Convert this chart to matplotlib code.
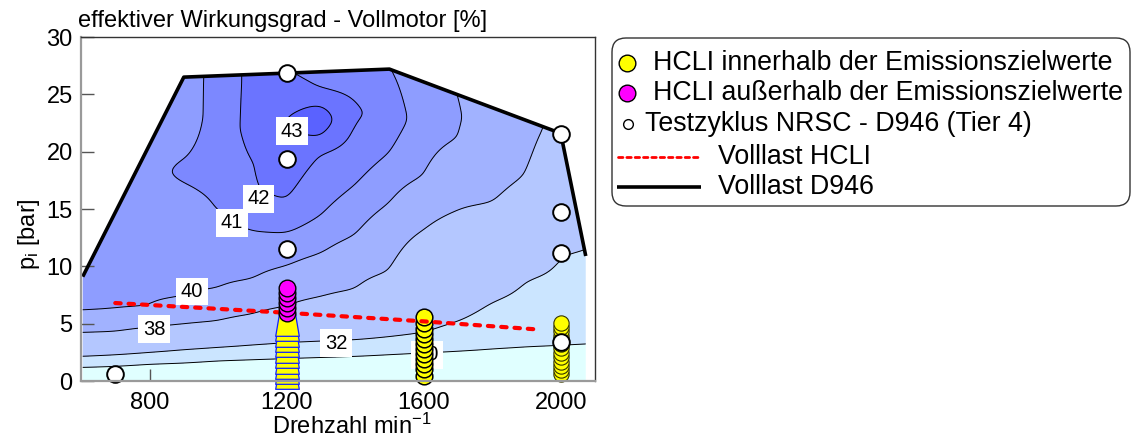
import numpy as np
import matplotlib
matplotlib.use("Agg")
import matplotlib.pyplot as plt
from matplotlib.patches import Polygon, FancyBboxPatch
from matplotlib.path import Path

plt.rcParams['font.family'] = ['Liberation Sans', 'DejaVu Sans']
plt.rcParams['mathtext.fontset'] = 'custom'
plt.rcParams['mathtext.rm'] = 'Liberation Sans'

# ---- efficiency map: (p_i [bar], eta [%]) pairs along each speed column ----
map_speeds = [600, 700, 800, 900, 1000, 1100, 1200, 1300,
              1400, 1500, 1600, 1700, 1800, 1900, 2000, 2100]
eta_600 = [(0, 28.0), (1.2, 30), (2.2, 32), (4.1, 38), (6.0, 40), (9.0, 40.6), (28, 40.8)]
eta_700 = [(0, 28.0), (1.3, 30), (2.35, 32), (4.2, 38), (6.1, 40), (12, 40.5), (18, 40.7), (28, 40.7)]
eta_800 = [(0, 28.0), (1.5, 30), (2.55, 32), (4.6, 38), (6.3, 40), (16, 40.8), (20.6, 40.9), (28, 40.9)]
eta_900 = [(0, 28.0), (1.6, 30), (2.8, 32), (4.85, 38), (7.2, 40), (17.3, 41), (18.2, 41.1),
           (19.3, 41), (23, 40.6), (27, 40.5), (28, 40.5)]
eta_1000 = [(0, 28.0), (1.8, 30), (3.0, 32), (5.1, 38), (7.95, 40), (15.1, 41), (20, 41.3),
            (22, 41.3), (26, 41.35), (28, 41.35)]
eta_1100 = [(0, 28.0), (1.9, 30), (3.2, 32), (5.7, 38), (8.8, 40), (13.1, 41), (16.5, 41.95),
            (19.0, 42), (22, 42.4), (26, 42.3), (28, 42.3)]
eta_1200 = [(0, 28.0), (2.0, 30), (3.4, 32), (6.4, 38), (10.0, 40), (12.9, 41), (15.6, 42),
            (22.7, 43.05), (25.5, 42.5), (27, 42.05), (28, 42.0)]
eta_1300 = [(0, 28.0), (2.1, 30), (3.5, 32), (7.25, 38), (11.1, 40), (14.5, 41), (19.8, 42),
            (21.2, 43), (22.7, 43.55), (24.2, 43), (25.5, 42), (27, 41.6), (28, 41.6)]
eta_1400 = [(0, 28.0), (2.2, 30), (3.6, 32), (7.9, 38), (12.7, 40), (17.1, 41), (22.6, 42),
            (23.4, 42.2), (24.3, 42), (25.5, 41.7), (27.5, 41.4), (28, 41.4)]
eta_1500 = [(0, 28.0), (2.35, 30), (3.85, 32), (9.5, 38), (15.5, 40), (19.9, 41), (23, 41.45),
            (27, 41.05), (28, 41.0)]
eta_1600 = [(0, 28.0), (2.5, 30), (4.2, 32), (13.2, 38), (17.9, 40), (22.5, 40.6), (26.5, 40.5),
            (28, 40.4)]
eta_1700 = [(0, 28.0), (2.6, 30), (5.2, 32), (14.9, 38), (21.2, 40), (23, 40.1), (24.8, 40),
            (28, 39.8)]
eta_1800 = [(0, 28.0), (2.75, 30), (6.9, 32), (15.5, 38), (20, 39.2), (24, 39.4), (28, 39.4)]
eta_1900 = [(0, 28.0), (2.9, 30), (8.8, 32), (14, 36.5), (18.0, 38), (23, 38.9), (28, 39.0)]
eta_2000 = [(0, 28.0), (3.0, 30), (11.0, 32), (17, 35.5), (22, 37.2), (28, 37.5)]
eta_2100 = [(0, 28.0), (3.15, 30), (12.0, 32), (18, 35), (22, 36.5), (28, 37)]
map_columns = [eta_600, eta_700, eta_800, eta_900, eta_1000, eta_1100, eta_1200, eta_1300,
               eta_1400, eta_1500, eta_1600, eta_1700, eta_1800, eta_1900, eta_2000, eta_2100]

fill_levels = [20, 30, 32, 38, 40, 41, 42, 43, 50]
line_levels = [30, 32, 38, 40, 41, 42, 43]
fill_colors = ['#e0ffff', '#cbe5ff', '#b4c7ff', '#a1b2ff', '#8e9dff', '#7c88ff', '#6b74ff', '#5a62ff']

# contour label values and where they sit
label_levels = [43, 42, 41, 40, 38, 32, 30]
label_rpm = [1216, 1119, 1041, 924, 813, 1344, 1610]
label_p = [21.8, 15.9, 13.8, 7.8, 4.5, 3.3, 2.3]

# ---- full-load curves ----
d946_fl_rpm = [605, 900, 1500, 2000, 2073]
d946_fl_p = [9.1, 26.5, 27.2, 21.6, 10.9]
hcli_fl_rpm = [700, 1200, 1600, 1930]
hcli_fl_p = [6.8, 5.95, 5.2, 4.5]

# ---- operating points ----
hcli_in_1200_p = [0.35, 0.8, 1.25, 1.7, 2.2, 2.65, 3.1, 3.6, 4.05, 4.5, 5.0]
hcli_in_1600_p = [0.45, 1.05, 1.5, 1.9, 2.35, 2.8, 3.25, 3.65, 4.1, 4.55, 5.05, 5.6]
hcli_in_2000_p = [0.6, 1.0, 1.35, 1.7, 2.1, 2.45, 2.85, 3.2, 3.6, 3.95, 4.35, 4.7, 5.1]
hcli_out_1200_p = [5.9, 6.35, 6.8, 7.2, 7.65, 8.1]
nrsc_rpm = [700, 1200, 1200, 1200, 2000, 2000, 2000, 2000]
nrsc_p = [0.6, 26.85, 19.4, 11.5, 21.5, 14.7, 11.2, 3.4]

legend_labels = ['HCLI innerhalb der Emissionszielwerte',
                 'HCLI außerhalb der Emissionszielwerte',
                 'Testzyklus NRSC - D946 (Tier 4)',
                 'Volllast HCLI',
                 'Volllast D946']


def smooth(z, sig_rows, sig_cols):
    out = z
    for axis, sig in ((0, sig_rows), (1, sig_cols)):
        r = int(3 * sig)
        k = np.exp(-0.5 * (np.arange(-r, r + 1) / sig) ** 2)
        k /= k.sum()
        pad = [(0, 0), (0, 0)]
        pad[axis] = (r, r)
        zp = np.pad(out, pad, mode='edge')
        out = np.apply_along_axis(lambda v: np.convolve(v, k, mode='valid'), axis, zp)
    return out


# build the map on a fine grid
p_fine = np.linspace(0, 28, 281)
n_fine = np.arange(600, 2101, 5)
cols = np.array([np.interp(p_fine, [a for a, _ in c], [b for _, b in c]) for c in map_columns])
Z = np.array([np.interp(n_fine, map_speeds, cols[:, i]) for i in range(len(p_fine))])
Z = smooth(Z, 3, 4)
N, P = np.meshgrid(n_fine, p_fine)

fig = plt.figure(figsize=(11.39, 4.45), dpi=100)
ax = fig.add_axes([81 / 1139, 1 - 381 / 445, 514 / 1139, 344 / 445])

boundary = [(d946_fl_rpm[0], 0)] + list(zip(d946_fl_rpm, d946_fl_p)) + [(d946_fl_rpm[-1], 0)]
clip = Polygon(boundary, closed=True, transform=ax.transData, facecolor='none', edgecolor='none')

cf = ax.contourf(N, P, Z, levels=fill_levels, colors=fill_colors, zorder=1)
cf.set_clip_path(clip)
cl = ax.contour(N, P, Z, levels=line_levels, colors='black', linewidths=0.7, zorder=2)
cl.set_clip_path(clip)

for lv, x, y in zip(label_levels, label_rpm, label_p):
    ax.text(x, y, f'{lv}', fontsize=14.5, ha='center', va='center', zorder=3,
            bbox=dict(boxstyle='square,pad=0.22', fc='white', ec='none'))

ax.plot(d946_fl_rpm, d946_fl_p, color='black', lw=2.6, solid_capstyle='butt', zorder=4)

trap = Path([(-0.33, 0.5), (0.33, 0.5), (0.5, -0.5), (-0.5, -0.5), (-0.33, 0.5)],
            [Path.MOVETO, Path.LINETO, Path.LINETO, Path.LINETO, Path.CLOSEPOLY])
for p in hcli_in_1200_p:
    ax.plot([1200], [p], marker=trap, ms=17, mfc='#ffff00', mec='#1020ff', mew=0.9,
            ls='none', zorder=5, clip_on=False)
for p in hcli_in_1600_p:
    ax.plot([1600], [p], 'o', ms=12, mfc='#ffff00', mec='black', mew=1.1, zorder=5, clip_on=False)
for p in hcli_in_2000_p:
    ax.plot([2000], [p], 'o', ms=11, mfc='#ffff00', mec='#333300', mew=0.8, zorder=5, clip_on=False)

ax.plot(hcli_fl_rpm, hcli_fl_p, color='#ff0000', lw=3.0, ls=(0, (1.3, 1.9)),
        dash_capstyle='round', zorder=6)

for p in hcli_out_1200_p:
    ax.plot([1200], [p], 'o', ms=12, mfc='#ff00ff', mec='black', mew=1.0, zorder=7)

ax.plot(nrsc_rpm, nrsc_p, 'o', ms=12, mfc='white', mec='black', mew=1.4, ls='none',
        zorder=8, clip_on=False)

ax.set_xlim(600, 2100)
ax.set_ylim(0, 30)
ax.set_xticks([800, 1200, 1600, 2000])
ax.set_yticks([0, 5, 10, 15, 20, 25, 30])
ax.tick_params(direction='in', length=9, width=1, color='#555555', labelsize=17)
ax.tick_params(axis='x', pad=8)
ax.tick_params(axis='y', pad=6)
for s in ('left', 'bottom'):
    ax.spines[s].set_color('#9a9a9a')
    ax.spines[s].set_linewidth(1.6)
for s in ('top', 'right'):
    ax.spines[s].set_color('#333333')
    ax.spines[s].set_linewidth(1.0)
for s in ax.spines.values():
    s.set_zorder(9)

ax.set_xlabel(r'Drehzahl min$\mathregular{^{-1}}$', fontsize=17)
ax.xaxis.set_label_coords(0.527, -0.095)
ax.set_ylabel(r'p$\mathregular{_i}$ [bar]', fontsize=17)
ax.yaxis.set_label_coords(-0.076, 0.427)

fig.text(78 / 1139, 1 - 26.7 / 445, 'effektiver Wirkungsgrad - Vollmotor [%]',
         fontsize=17, va='baseline', ha='left')

# legend drawn in a pixel-scaled helper axes
lx0, ly0, lw_, lh_ = 611, 37, 520, 170
lax = fig.add_axes([lx0 / 1139, 1 - (ly0 + lh_) / 445, lw_ / 1139, lh_ / 445])
lax.set_xlim(0, lw_)
lax.set_ylim(lh_, 0)
lax.axis('off')
lax.add_patch(FancyBboxPatch((1, 1), lw_ - 2, lh_ - 2, boxstyle='round,pad=0,rounding_size=14',
                             fc='white', ec='#333333', lw=1.0, clip_on=False))
rows_y = [26.3, 56.3, 87.3, 119.7, 149.7]
lax.plot([16], [rows_y[0]], 'o', ms=12, mfc='#ffff00', mec='black', mew=1.0)
lax.plot([16], [rows_y[1]], 'o', ms=12, mfc='#ff00ff', mec='black', mew=1.0)
lax.plot([17], [rows_y[2]], 'o', ms=7, mfc='white', mec='black', mew=1.0)
lax.plot([7, 90], [rows_y[3]] * 2, color='#ff0000', lw=2.0, ls=(0, (1.6, 1.4)),
         dash_capstyle='round')
lax.plot([6, 90], [rows_y[4]] * 2, color='black', lw=2.6, solid_capstyle='butt')
text_x = [42, 42, 34, 107, 107]
for t, x, y in zip(legend_labels, text_x, rows_y):
    lax.text(x, y, t, fontsize=19.3, ha='left', va='center')

fig.savefig('out.png', dpi=100)
